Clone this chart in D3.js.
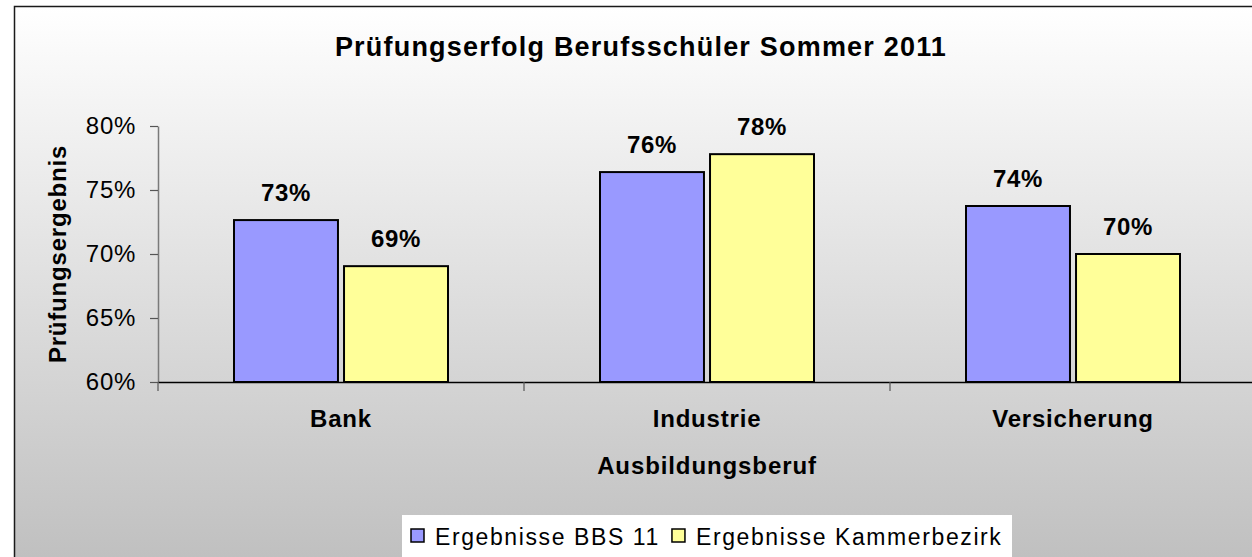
<!DOCTYPE html>
<html>
<head>
<meta charset="utf-8">
<script src="https://cdn.jsdelivr.net/npm/d3@7"></script>
<style>
  body { margin: 0; background: #fff; }
  svg { display: block; font-family: "Liberation Sans", Arial, sans-serif; }
</style>
</head>
<body>
<svg id="chart"></svg>
<script>
// data
var categories = ["Bank", "Industrie", "Versicherung"];
var seriesNames = ["Ergebnisse BBS 11", "Ergebnisse Kammerbezirk"];
var bbs11 = [0.7265, 0.764, 0.7375];
var kammer = [0.6905, 0.778, 0.700];
var yTicks = [0.60, 0.65, 0.70, 0.75, 0.80];
var colors = ["#9999ff", "#ffff99"];

var width = 1252, height = 557;

var svg = d3.select("#chart")
    .attr("width", width)
    .attr("height", height);

// gradient background
var defs = svg.append("defs");
var grad = defs.append("linearGradient")
    .attr("id", "bg")
    .attr("gradientUnits", "userSpaceOnUse")
    .attr("x1", 0).attr("y1", 6).attr("x2", 0).attr("y2", 557);
grad.append("stop").attr("offset", "0%").attr("stop-color", "#ffffff");
grad.append("stop").attr("offset", "100%").attr("stop-color", "#c0c0c0");

svg.append("rect")
    .attr("x", 14.5).attr("y", 6.5)
    .attr("width", width + 20).attr("height", height + 20)
    .attr("fill", "url(#bg)")
    .attr("stroke", "#1a1a1a")
    .attr("stroke-width", 1.5);

// scales
var x0 = d3.scaleBand().domain(categories).range([158, 1256]);
var x1 = d3.scaleBand().domain(seriesNames).range([76, 290]).paddingInner(0.055);
var y = d3.scaleLinear().domain([0.6, 0.8]).range([382, 126]);

// title
svg.append("text")
    .attr("x", 641).attr("y", 56)
    .attr("text-anchor", "middle")
    .style("font-size", "27px").style("font-weight", "bold")
    .style("letter-spacing", "1.2px")
    .text("Prüfungserfolg Berufsschüler Sommer 2011");

// y axis
var yAxis = svg.append("g")
    .attr("transform", "translate(158,0)")
    .call(d3.axisLeft(y).tickValues(yTicks).tickFormat(d3.format(".0%"))
        .tickSize(8).tickSizeOuter(0).tickPadding(14));
yAxis.select(".domain").attr("stroke", "#7a7a7a").attr("stroke-width", 1.5);
yAxis.selectAll(".tick line").attr("stroke", "#555").attr("stroke-width", 1.2);
yAxis.selectAll(".tick text")
    .attr("fill", "#000")
    .style("font-size", "24px")
    .style("font-family", "Liberation Sans, Arial, sans-serif")
    .style("letter-spacing", "0.7px");

// bars
var rows = categories.map(function(c, i) {
    return {cat: c, vals: [bbs11[i], kammer[i]]};
});

var groups = svg.selectAll(".grp").data(rows).enter().append("g")
    .attr("class", "grp")
    .attr("transform", function(d) { return "translate(" + x0(d.cat) + ",0)"; });

groups.selectAll("rect").data(function(d) {
        return d.vals.map(function(v, j) { return {s: seriesNames[j], v: v, j: j}; });
    })
    .enter().append("rect")
    .attr("x", function(d) { return x1(d.s); })
    .attr("y", function(d) { return y(d.v); })
    .attr("width", x1.bandwidth())
    .attr("height", function(d) { return y(0.6) - y(d.v); })
    .attr("fill", function(d) { return colors[d.j]; })
    .attr("stroke", "#000")
    .attr("stroke-width", 2);

groups.selectAll("text.val").data(function(d) {
        return d.vals.map(function(v, j) { return {s: seriesNames[j], v: v}; });
    })
    .enter().append("text")
    .attr("class", "val")
    .attr("x", function(d) { return x1(d.s) + x1.bandwidth() / 2; })
    .attr("y", function(d) { return y(d.v) - 19; })
    .attr("text-anchor", "middle")
    .style("font-size", "24px").style("font-weight", "bold")
    .style("letter-spacing", "0.7px")
    .text(function(d) { return d3.format(".0%")(d.v); });

// x axis
var xAxis = svg.append("g")
    .attr("transform", "translate(0,382)")
    .call(d3.axisBottom(x0).tickSize(0).tickPadding(28));
xAxis.select(".domain").attr("stroke", "#000").attr("stroke-width", 1.5);
xAxis.selectAll(".tick text")
    .attr("fill", "#000")
    .style("font-size", "24px").style("font-weight", "bold")
    .style("font-family", "Liberation Sans, Arial, sans-serif")
    .style("letter-spacing", "0.8px");

// boundary ticks between categories
svg.append("g").selectAll("line").data(categories).enter().append("line")
    .attr("x1", function(d) { return x0(d); })
    .attr("x2", function(d) { return x0(d); })
    .attr("y1", 382).attr("y2", 391)
    .attr("stroke", "#555").attr("stroke-width", 1.2);

// axis titles
svg.append("text")
    .attr("x", 707).attr("y", 474)
    .attr("text-anchor", "middle")
    .style("font-size", "24px").style("font-weight", "bold")
    .style("letter-spacing", "0.9px")
    .text("Ausbildungsberuf");

svg.append("text")
    .attr("transform", "translate(66,254) rotate(-90)")
    .attr("text-anchor", "middle")
    .style("font-size", "24px").style("font-weight", "bold")
    .style("letter-spacing", "0.8px")
    .text("Prüfungsergebnis");

// legend
var legend = svg.append("g");
legend.append("rect")
    .attr("x", 402).attr("y", 515)
    .attr("width", 610).attr("height", 60)
    .attr("fill", "#fff");

var lx = 411;
seriesNames.forEach(function(name, j) {
    legend.append("rect")
        .attr("x", lx).attr("y", 529)
        .attr("width", 13).attr("height", 13)
        .attr("fill", colors[j])
        .attr("stroke", "#000").attr("stroke-width", 1.5);
    var t = legend.append("text")
        .attr("x", lx + 24).attr("y", 545)
        .style("font-size", "23px")
        .style("letter-spacing", "1.6px")
        .text(name);
    lx = lx + 24 + t.node().getComputedTextLength() + 12;
});
</script>
</body>
</html>
